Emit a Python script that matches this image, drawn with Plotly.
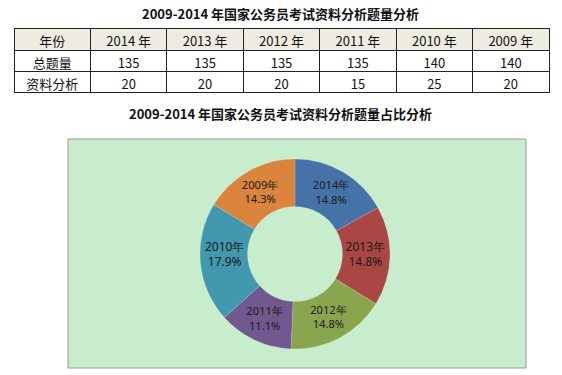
import plotly.graph_objects as go

years = ["2014 年", "2013 年", "2012 年", "2011 年", "2010 年", "2009 年"]
pie_labels = ["2014年", "2013年", "2012年", "2011年", "2010年", "2009年"]
total_q = [135, 135, 135, 135, 140, 140]
analysis_q = [20, 20, 20, 15, 25, 20]
row_names = ["总题量", "资料分析"]
title1 = "2009-2014 年国家公务员考试资料分析题量分析"
title2 = "2009-2014 年国家公务员考试资料分析题量占比分析"
colors = ["#4572A7", "#AA4643", "#89A54E", "#71588F", "#4198AF", "#DB843D"]

W, H = 562, 375
ratios = [a / t * 100 for a, t in zip(analysis_q, total_q)]
texts = [f"{l}<br>{r:.1f}%" for l, r in zip(pie_labels, ratios)]

fig = go.Figure()

cell_cols = [row_names] + [[str(t), str(a)] for t, a in zip(total_q, analysis_q)]
fig.add_trace(go.Table(
    domain=dict(x=[14 / W, 549 / W], y=[1 - 97 / H, 1 - 28 / H]),
    header=dict(values=["年份"] + years, fill_color="#EEECE1",
                line=dict(color="#222", width=1), align="center", height=22,
                font=dict(family="Noto Sans CJK SC", size=13, color="#111")),
    cells=dict(values=cell_cols, fill_color="white",
               line=dict(color="#222", width=1), align="center", height=21,
               font=dict(family="Noto Sans CJK SC", size=13, color="#111")),
))

cx, cy, r = 295, 254, 95
fig.add_trace(go.Pie(
    labels=pie_labels, values=ratios, text=texts, textinfo="text",
    sort=False, direction="clockwise", rotation=0, hole=0.5,
    marker=dict(colors=colors, line=dict(color="rgba(255,255,255,0.3)", width=0.5)),
    textposition="inside", insidetextorientation="horizontal",
    textfont=dict(family="Noto Sans", size=12, color="#1a1a1a"),
    domain=dict(x=[(cx - r) / W, (cx + r) / W], y=[1 - (cy + r) / H, 1 - (cy - r) / H]),
    showlegend=False, hoverinfo="label+text",
))

fig.update_layout(
    width=W, height=H, margin=dict(l=0, r=0, t=0, b=0),
    paper_bgcolor="white", plot_bgcolor="white",
    shapes=[dict(type="rect", xref="paper", yref="paper",
                 x0=68 / W, x1=526 / W, y0=1 - 368 / H, y1=1 - 139 / H,
                 fillcolor="#C8EDCC", line=dict(color="#9a9a9a", width=1), layer="below")],
    annotations=[
        dict(text=f"<b>{title1}</b>", x=280 / W, y=1 - 14 / H, xref="paper", yref="paper",
             xanchor="center", yanchor="middle",
             showarrow=False, font=dict(family="Noto Sans CJK SC", size=13, color="#111")),
        dict(text=f"<b>{title2}</b>", x=280 / W, y=1 - 113 / H, xref="paper", yref="paper",
             xanchor="center", yanchor="middle",
             showarrow=False, font=dict(family="Noto Sans CJK SC", size=13, color="#111")),
    ],
)

fig.write_html("out.html", config={"displayModeBar": False},
               post_script="document.body.style.margin='0px';")
